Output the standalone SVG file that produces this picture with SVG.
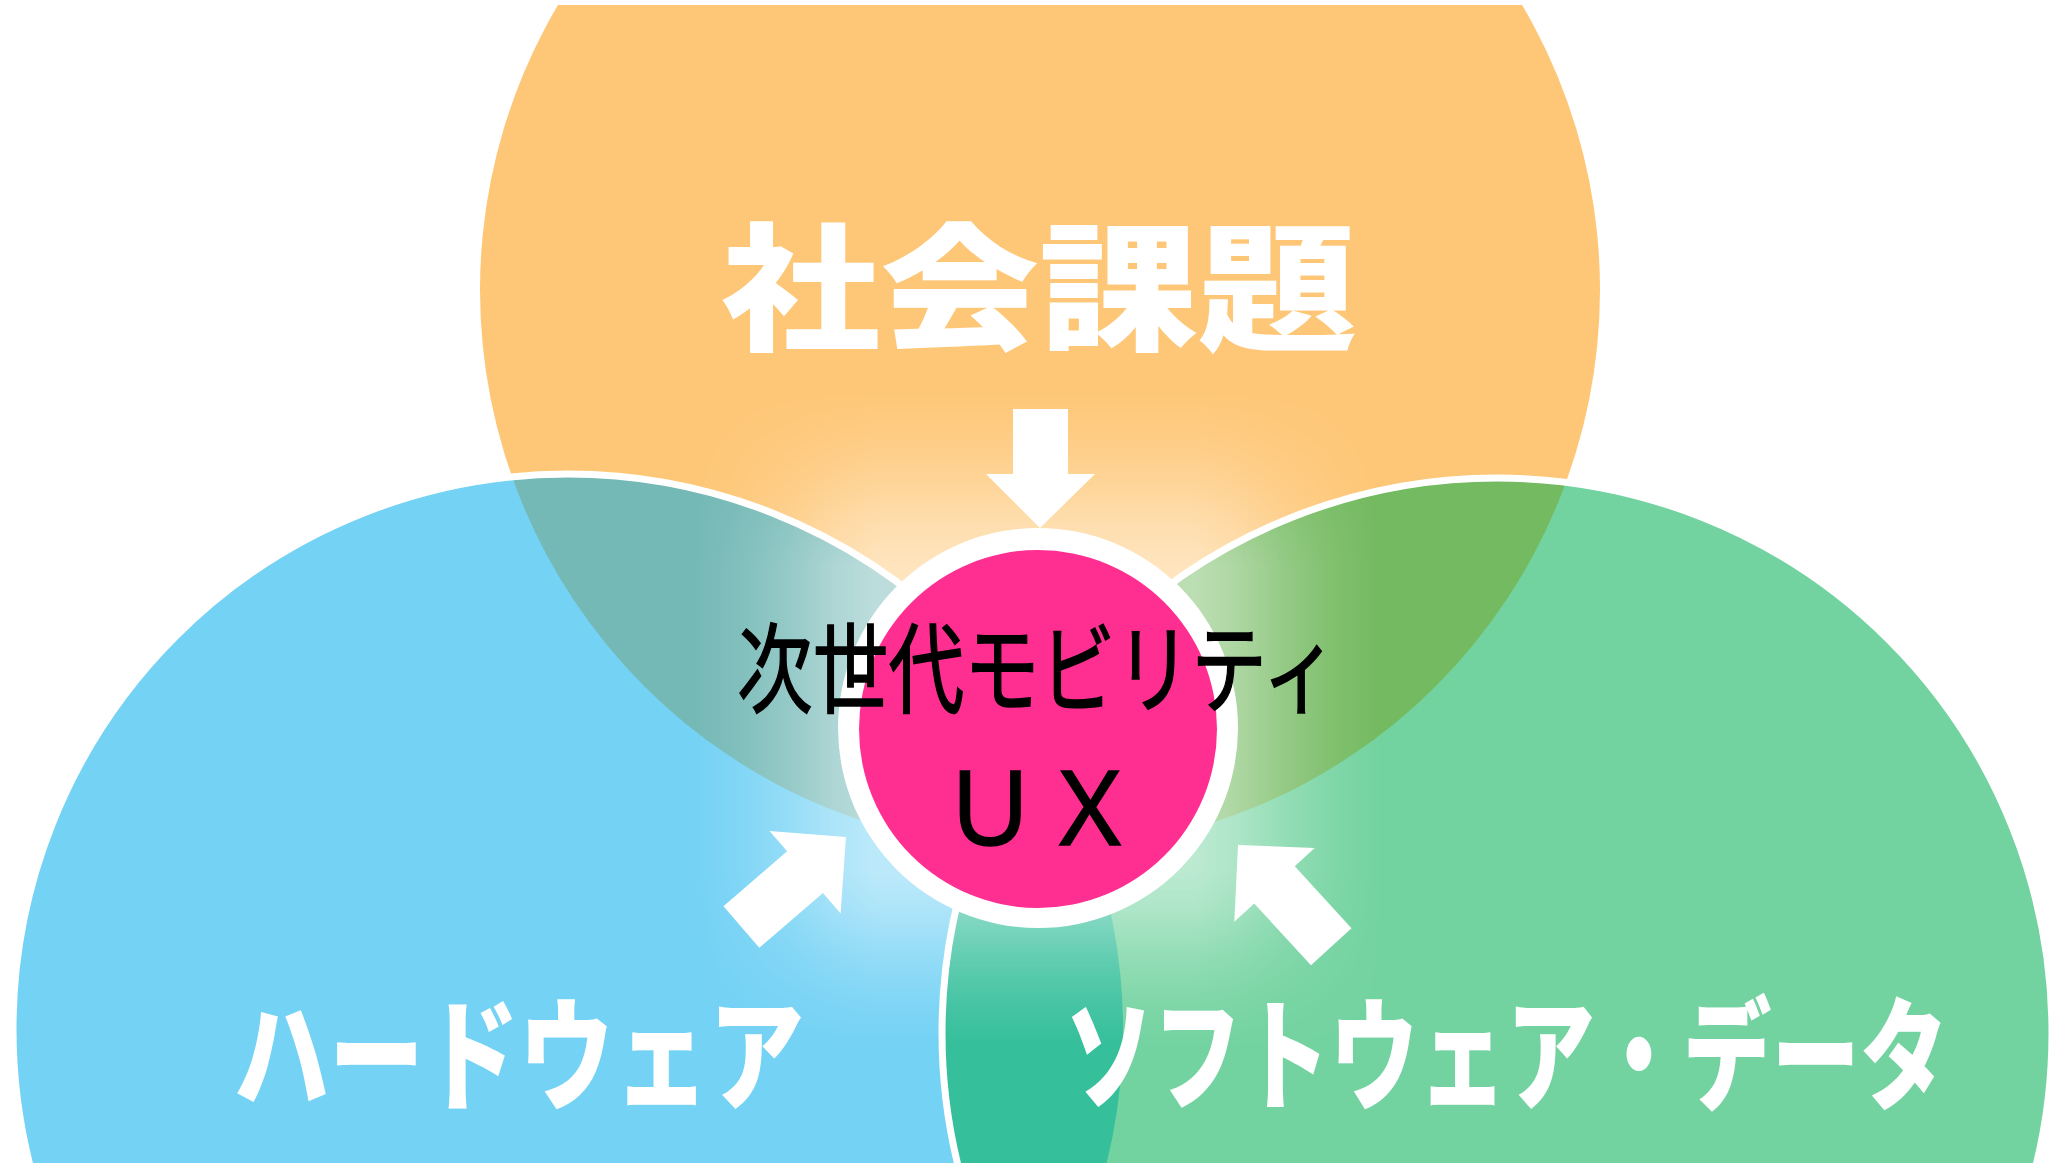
<svg xmlns="http://www.w3.org/2000/svg" width="2061" height="1163" viewBox="0 0 2061 1163">
  <style>
    .lbl { font-family: "Noto Sans CJK JP", "Noto Sans CJK SC", sans-serif; fill: #ffffff; font-weight: 900; text-anchor: middle; }
    .ctr { font-family: "Noto Sans CJK JP", "Noto Sans CJK SC", sans-serif; fill: #000000; stroke: #000000; stroke-width: 1.5; font-weight: 400; text-anchor: middle; }
    .outline { fill: none; stroke: #ffffff; stroke-width: 7; }
    .arrow { fill: #ffffff; }
  </style>
  <defs>
    <clipPath id="cTop"><rect x="0" y="5" width="2061" height="1158"/></clipPath>
    <clipPath id="cBlue"><circle cx="568" cy="1029" r="555"/></clipPath>
    <clipPath id="cGreen"><circle cx="1497" cy="1033" r="555"/></clipPath>
    <linearGradient id="gx" gradientUnits="userSpaceOnUse" x1="690" y1="0" x2="1382" y2="0">
      <stop offset="0" stop-color="#ffffff" stop-opacity="0"/>
      <stop offset="0.07" stop-color="#ffffff" stop-opacity="0.18"/>
      <stop offset="0.14" stop-color="#ffffff" stop-opacity="0.45"/>
      <stop offset="0.21" stop-color="#ffffff" stop-opacity="0.8"/>
      <stop offset="0.27" stop-color="#ffffff" stop-opacity="1"/>
      <stop offset="0.73" stop-color="#ffffff" stop-opacity="1"/>
      <stop offset="0.79" stop-color="#ffffff" stop-opacity="0.8"/>
      <stop offset="0.86" stop-color="#ffffff" stop-opacity="0.45"/>
      <stop offset="0.93" stop-color="#ffffff" stop-opacity="0.18"/>
      <stop offset="1" stop-color="#ffffff" stop-opacity="0"/>
    </linearGradient>
    <linearGradient id="gy" gradientUnits="userSpaceOnUse" x1="0" y1="388" x2="0" y2="1048">
      <stop offset="0" stop-color="#ffffff" stop-opacity="0"/>
      <stop offset="0.07" stop-color="#ffffff" stop-opacity="0.18"/>
      <stop offset="0.14" stop-color="#ffffff" stop-opacity="0.45"/>
      <stop offset="0.21" stop-color="#ffffff" stop-opacity="0.8"/>
      <stop offset="0.27" stop-color="#ffffff" stop-opacity="1"/>
      <stop offset="0.73" stop-color="#ffffff" stop-opacity="1"/>
      <stop offset="0.79" stop-color="#ffffff" stop-opacity="0.8"/>
      <stop offset="0.86" stop-color="#ffffff" stop-opacity="0.45"/>
      <stop offset="0.93" stop-color="#ffffff" stop-opacity="0.18"/>
      <stop offset="1" stop-color="#ffffff" stop-opacity="0"/>
    </linearGradient>
    <mask id="mx" maskUnits="userSpaceOnUse" x="0" y="0" width="2061" height="1163">
      <rect x="690" y="388" width="692" height="660" fill="url(#gx)"/>
    </mask>
    <mask id="my" maskUnits="userSpaceOnUse" x="0" y="0" width="2061" height="1163">
      <rect x="690" y="388" width="692" height="660" fill="url(#gy)"/>
    </mask>
  </defs>

  <rect x="0" y="0" width="2061" height="1163" fill="#ffffff"/>

  <g id="social-issues-area">
    <circle cx="1040" cy="290" r="560" fill="#FEC777" clip-path="url(#cTop)"/>
  </g>

  <g id="hardware-area">
    <circle cx="568" cy="1029" r="555" fill="#74D2F5"/>
  </g>

  <g id="overlap-social-hardware">
    <circle cx="1040" cy="290" r="560" fill="#74B9B6" clip-path="url(#cBlue)"/>
    <circle class="outline" cx="568" cy="1029" r="555"/>
  </g>

  <g id="software-area">
    <circle cx="1497" cy="1033" r="555" fill="#73D3A0"/>
  </g>

  <g id="overlaps">
    <circle cx="1040" cy="290" r="560" fill="#74BA60" clip-path="url(#cGreen)"/>
    <circle cx="568" cy="1029" r="555" fill="#35BF9B" clip-path="url(#cGreen)"/>
    <circle class="outline" cx="1497" cy="1033" r="555"/>
  </g>

  <g id="glow-effect" mask="url(#mx)">
    <rect x="690" y="388" width="692" height="660" fill="#ffffff" fill-opacity="0.52" mask="url(#my)"/>
  </g>

  <g id="connectors">
    <polygon class="arrow" points="1013,409 1068,409 1068,474 1095,474 1040,528 986,474 1013,474"/>
    <polygon class="arrow" transform="translate(846,837) rotate(-40.7)" points="-138,-27.5 -54,-27.5 -54,-54.5 0,0 -54,54.5 -54,27.5 -138,27.5"/>
    <polygon class="arrow" transform="translate(1238,845) rotate(-132.5)" points="-138,-27.5 -54,-27.5 -54,-54.5 0,0 -54,54.5 -54,27.5 -138,27.5"/>
  </g>

  <g id="center-ux">
    <circle cx="1038" cy="728" r="200" fill="#ffffff"/>
    <circle cx="1038" cy="729" r="179" fill="#FF2F92"/>
    <text class="ctr" x="1037.5" y="705" font-size="98" textLength="601" lengthAdjust="spacingAndGlyphs">次世代モビリティ</text>
    <text class="ctr" x="1040" y="845" font-size="100" stroke-width="0.5">ＵＸ</text>
  </g>

  <g id="labels">
    <text class="lbl" x="1039" y="339" font-size="138" textLength="636" lengthAdjust="spacingAndGlyphs">社会課題</text>
    <text class="lbl" x="519" y="1100" font-size="122" textLength="570" lengthAdjust="spacingAndGlyphs">ハードウェア</text>
    <text class="lbl" x="1506.5" y="0" font-size="100" transform="translate(0,1100) scale(1,1.22)" textLength="883" lengthAdjust="spacingAndGlyphs">ソフトウェア・データ</text>
  </g>
</svg>
